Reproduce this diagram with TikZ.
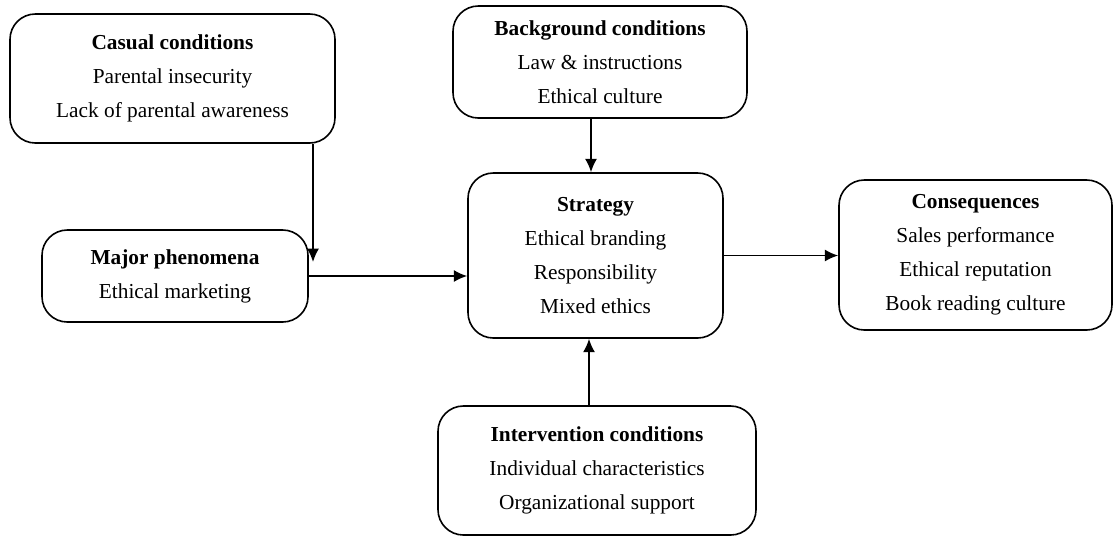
\documentclass[tikz,border=0pt]{standalone}
\usepackage{fontspec}
\setmainfont{Liberation Serif}
\usetikzlibrary{arrows.meta, positioning}

\tikzset{
	box/.style={draw, line width=1.2pt, rounded corners=19pt, align=center, font=\fontsize{16}{25.5}\selectfont, inner sep=0pt},
	link/.style={line width=1.2pt, -{Latex[length=10pt, width=9pt]}}
}

\begin{document}
\begin{tikzpicture}[x=0.75pt, y=-0.75pt]
	\useasboundingbox (0,0) rectangle (1116,537);
	%boxes
	\node[box, minimum width=243.75pt, minimum height=96.75pt] (casual) at (172.5,78.5) {\textbf{Casual conditions}\\Parental insecurity\\Lack of parental awareness};
	\node[box, minimum width=220.5pt, minimum height=84pt] (backgr) at (600,62) {\textbf{Background conditions}\\Law \& instructions\\Ethical culture};
	\node[box, minimum width=199.5pt, minimum height=69pt] (major) at (175,276) {\textbf{Major phenomena}\\Ethical marketing};
	\node[box, minimum width=191.25pt, minimum height=123.75pt] (strat) at (595.5,255.5) {\textbf{Strategy}\\Ethical branding\\Responsibility\\Mixed ethics};
	\node[box, minimum width=204.75pt, minimum height=112.5pt] (conseq) at (975.5,255) {\textbf{Consequences}\\Sales performance\\Ethical reputation\\Book reading culture};
	\node[box, minimum width=238.5pt, minimum height=96.75pt] (interv) at (597,470.5) {\textbf{Intervention conditions}\\Individual characteristics\\Organizational support};
	%arrows
	\coordinate (casualend) at (313,262);
	\draw[link] (casualend |- casual.south) -- (casualend);
	\draw[link] (major.east) -- (major.east -| strat.west);
	\draw[link] ([xshift=-6.75pt]backgr.south) -- ([xshift=-6.75pt]backgr.south |- strat.north);
	\draw[link] (strat.east) -- (strat.east -| conseq.west);
	\draw[link] ([xshift=-6pt]interv.north) -- ([xshift=-6pt]interv.north |- strat.south);
\end{tikzpicture}
\end{document}
